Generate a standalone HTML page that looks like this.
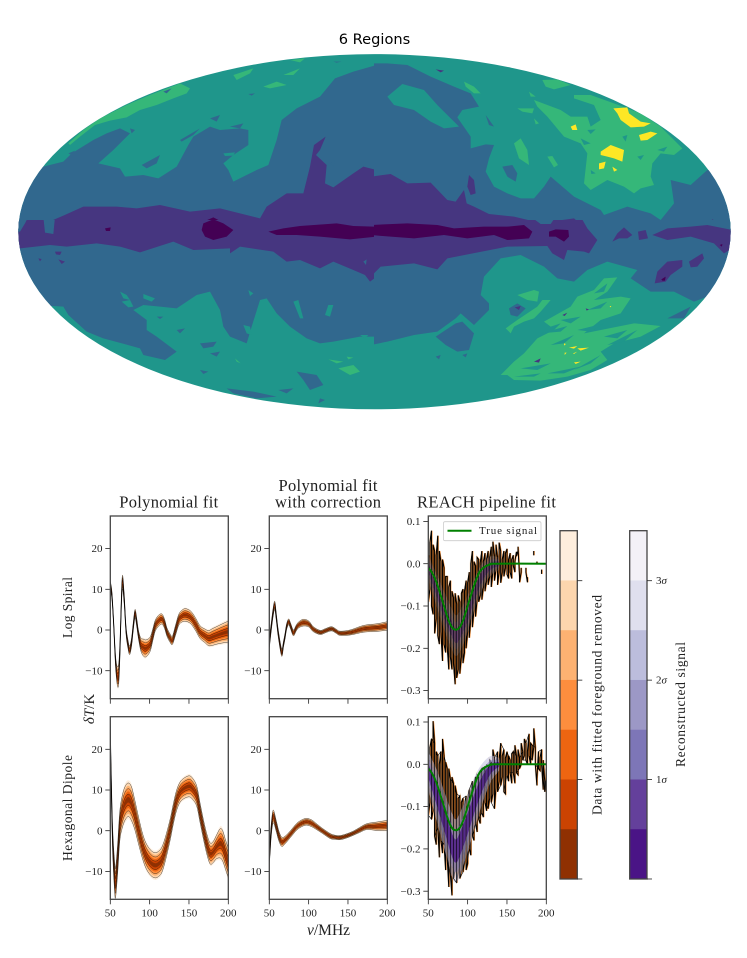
<!DOCTYPE html>
<html lang="en">
<head>
<meta charset="utf-8">
<title>6 Regions</title>
<style>
html,body{margin:0;padding:0;background:#fff}
svg{display:block}
.t{fill:#1f968b}.g{fill:#35b779}.y{fill:#fde725}.b{fill:#31688e}.p{fill:#463680}.d{fill:#440154}
text{font-family:"Liberation Serif","DejaVu Serif",serif;fill:#222}
</style>
</head>
<body>
<svg id="fig" xmlns="http://www.w3.org/2000/svg" width="747" height="958" viewBox="0 0 747 958">
<defs><clipPath id="moll"><ellipse cx="374.5" cy="231.7" rx="356.2" ry="177.6"/></clipPath></defs>
<text x="374.5" y="44" text-anchor="middle" style="font-family:'DejaVu Sans','Liberation Sans',sans-serif;font-size:14.6px;fill:#000">6 Regions</text>
<g clip-path="url(#moll)">

<svg x="0" y="30" width="374" height="200" viewBox="0 0 1122 600">
<rect class="t" x="0" y="0" width="1122" height="600"/>
<g class="g">
<polygon points="205,340 250,300 300,265 380,225 450,195 540,160 570,175 560,190 520,205 470,225 420,240 380,262 330,272 285,285 240,320 210,345"/>
<polygon points="700,135 760,115 750,130 710,150"/><polygon points="850,135 900,115 880,135"/><polygon points="790,170 830,155 860,165 810,175"/><polygon points="870,90 915,85 900,97"/>
</g>
<g class="b">
<polygon points="110,410 130,410 190,395 215,370 280,330 320,310 360,295 390,310 370,330 340,360 295,400 360,415 375,440 430,435 475,445 530,410 565,345 580,320 630,290 660,300 720,295 745,300 745,345 700,375 670,400 685,420 700,455 730,440 770,420 805,405 830,330 845,270 890,235 960,200 1005,145 1060,125 1130,105 1130,610 0,610 0,410"/>
<polygon points="425,405 480,375 470,400 440,415"/><polygon points="630,265 660,255 650,275"/><polygon points="690,290 730,280 720,295"/><polygon points="205,370 225,362 215,375"/><polygon points="390,295 405,300 395,310"/><polygon points="540,330 600,295 580,315 545,335"/><polygon points="745,192 765,190 755,197"/><polygon points="490,185 515,175 500,190"/><polygon points="1000,95 1025,95 1010,98"/>
</g>
<polygon class="t" points="670,370 705,367 700,377 675,378"/>
<g class="p">
<polygon points="40,610 80,575 130,578 140,590 155,572 190,557 250,530 350,530 410,535 480,525 570,545 660,535 720,550 780,565 800,530 860,490 910,490 930,410 942,345 977,320 960,360 948,375 980,405 975,460 1000,472 1060,430 1090,410 1130,420 1130,610"/>
</g>
<polygon class="b" points="990,400 1005,390 1000,410"/>
<g class="d">
<polygon points="605,600 610,575 640,562 665,575 700,600 700,610 605,610"/>
<polygon points="810,600 900,590 1010,578 1060,590 1130,585 1130,610 810,610"/>
<polygon points="318,600 330,595 330,605"/>
</g>
</svg>

<svg x="374" y="30" width="373" height="200" viewBox="0 0 1119 600">
<rect class="t" x="0" y="0" width="1119" height="600"/>
<g class="g">
<polygon points="270,155 300,170 320,190 300,190 275,170"/>
<polygon points="505,150 550,148 590,165 540,178 515,170"/>
<polygon points="420,340 440,325 460,360 465,405 435,385"/>
<polygon points="520,380 535,378 552,405 540,412"/>
<polygon points="430,235 480,235 475,250 445,245"/><polygon points="465,185 485,200 470,200"/><polygon points="480,265 495,280 485,283"/>
<polygon points="480,210 560,240 590,260 640,260 650,290 680,270 660,225 600,205 600,195 650,195 720,220 760,235 800,250 860,290 900,330 925,355 900,375 860,370 835,400 830,440 840,465 800,475 780,490 750,470 700,450 650,480 630,460 640,370 620,340 570,320 545,290 520,260 490,230"/>
</g>
<g class="t">
<polygon points="620,325 650,340 630,345"/><polygon points="650,420 665,430 652,432"/><polygon points="790,380 810,375 800,390"/><polygon points="850,360 880,350 870,365"/><polygon points="745,320 760,315 755,335"/><polygon points="640,300 665,298 650,312"/>
</g>
<g class="y">
<polygon points="718,235 760,232 765,250 800,275 830,280 810,290 770,292 740,270 730,250"/>
<polygon points="795,315 830,305 850,310 820,330 800,332"/>
<polygon points="590,290 605,283 610,300 595,300"/>
<polygon points="680,365 710,345 750,360 745,395 720,385 700,380 680,375"/>
<polygon points="675,400 695,395 690,415 675,418"/>
<polygon points="715,410 730,420 720,425"/>
</g>
<g class="b">
<polygon points="-10,100 40,100 100,105 170,140 240,170 290,190 315,230 265,240 250,262 290,320 290,355 335,343 360,345 345,385 335,425 360,470 400,490 440,505 480,505 510,470 530,440 600,500 680,540 690,555 760,530 830,550 860,570 900,520 890,450 950,465 1000,420 1130,420 1130,610 -10,610"/>
<polygon points="385,410 415,405 430,430 425,455 400,440"/><polygon points="335,255 360,290 345,285"/>
</g>
<polygon class="t" points="40,200 85,162 150,180 190,225 255,290 210,295 170,275 120,240 60,225"/>
<g class="p">
<polygon points="-10,440 50,432 100,460 170,458 220,510 245,515 270,480 278,520 300,530 345,552 420,560 470,572 530,575 600,565 640,600 650,610 -10,610"/>
<polygon points="880,610 885,595 925,580 1000,582 1015,568 1060,590 1075,610"/>
<polygon points="285,435 300,450 305,490 290,495 280,470"/>
<polygon points="185,118 210,122 200,127"/>
</g>
<polygon class="d" points="-10,585 60,582 120,585 170,585 250,590 320,600 400,595 440,590 460,610 -10,610"/>
</svg>

<svg x="0" y="220" width="374" height="200" viewBox="0 0 1122 600">
<rect class="t" x="0" y="0" width="1122" height="600"/>
<g class="g">
<polygon points="985,418 1030,425 1010,430"/><polygon points="1040,410 1060,413 1045,418"/><polygon points="1015,445 1060,435 1080,455 1050,465"/><polygon points="705,415 722,430 710,425"/>
</g>
<g class="b">
<polygon points="160,258 190,260 205,285 260,335 310,355 420,385 430,405 495,420 530,395 470,350 440,330 440,300 400,270 430,255 480,260 530,265 590,225 630,215 660,270 670,320 690,350 740,370 755,320 780,240 800,235 830,280 870,320 920,355 960,370 1000,365 1080,350 1130,350 1130,-10 0,-10 0,258"/>
<polygon points="470,290 490,290 480,297"/><polygon points="530,330 555,325 540,340"/><polygon points="600,370 650,365 640,380 610,385"/><polygon points="630,400 660,395 650,410"/>
<polygon points="680,505 760,515 830,530 770,535 700,520"/><polygon points="890,455 950,465 970,495 930,510 910,480"/><polygon points="600,450 625,455 610,462"/><polygon points="835,510 880,505 860,520"/><polygon points="960,535 975,540 955,550"/>
</g>
<g class="t">
<polygon points="360,215 380,225 390,240 370,235"/><polygon points="365,245 390,240 400,260 385,262"/><polygon points="430,222 465,235 455,245 430,235"/><polygon points="745,210 760,220 750,228"/><polygon points="880,245 895,240 910,295 900,295"/><polygon points="985,255 1000,255 990,290 975,285"/><polygon points="730,315 750,320 755,345 740,340"/><polygon points="1080,345 1105,345 1095,355"/>
</g>
<g class="p">
<polygon points="-10,-10 1130,-10 1130,170 1110,185 1095,165 1060,150 1000,125 960,145 900,120 860,125 820,95 720,80 690,100 690,85 580,90 520,65 420,97 360,80 290,70 200,80 150,75 60,85 -10,85"/>
<polygon points="165,95 185,95 180,105 168,103"/><polygon points="175,118 195,125 185,132"/><polygon points="115,115 125,117 120,124"/>
</g>
<g class="b">
<polygon points="130,-10 165,-10 160,42 135,38"/><polygon points="0,-10 85,-10 75,10 60,35 0,35"/><polygon points="1090,125 1100,118 1098,135"/>
</g>
<g class="d">
<polygon points="605,30 610,10 640,-2 670,10 700,30 680,50 640,60 615,50"/>
<polygon points="805,35 850,25 900,18 1010,10 1060,18 1130,20 1130,50 1050,58 960,50 890,45 830,45"/>
<polygon points="315,25 332,22 330,33 318,33"/>
</g>
</svg>

<svg x="374" y="220" width="373" height="200" viewBox="0 0 1119 600">
<rect class="t" x="0" y="0" width="1119" height="600"/>
<g class="b">
<polygon points="-10,375 40,365 120,345 190,335 245,295 260,280 300,315 330,285 345,270 345,250 320,225 330,170 380,115 440,105 510,140 550,175 600,185 640,150 700,125 790,150 770,175 830,215 900,215 960,245 1000,230 1130,200 1130,-10 -10,-10"/>
<polygon points="185,350 245,310 265,305 300,340 285,390 250,395 215,375"/>
<polygon points="880,295 950,260 930,295"/><polygon points="405,265 430,250 455,265 430,290 410,285"/>
<polygon points="185,410 200,405 195,418"/><polygon points="265,405 280,400 275,412"/>
</g>
<g class="g">
<polygon points="430,225 480,210 495,215 490,245 460,240"/>
<polygon points="380,465 420,425 450,400 490,355 540,330 560,310 530,320 510,305 590,260 610,230 660,210 690,175 730,172 700,215 660,240 740,230 770,235 740,280 680,300 630,340 780,310 860,318 800,350 720,370 680,395 700,420 650,450 580,470 500,482 420,480 400,465"/>
<polygon points="490,260 505,240 530,240 500,275 480,295 450,305 420,320 410,340 395,325 430,300"/>
</g>
<g class="t">
<polygon points="690,350 760,330 730,355"/><polygon points="600,450 680,405 650,430"/><polygon points="420,470 500,460 480,470"/><polygon points="560,300 620,290 590,310"/>
<polygon points="500,340 580,318 560,335"/><polygon points="530,375 600,345 570,370"/><polygon points="640,270 700,245 680,265"/><polygon points="440,445 530,430 490,450"/><polygon points="610,330 690,310 650,335"/><polygon points="660,220 700,190 690,215"/><polygon points="520,460 620,440 570,460"/><polygon points="700,375 790,330 750,365"/>
</g>
<g class="p">
<polygon points="-10,-10 470,-10 500,12 530,12 545,-10 620,-10 640,25 670,60 645,100 630,95 580,90 570,120 535,100 520,78 400,80 220,115 190,148 120,130 20,140 0,160 -10,165"/>
<polygon points="715,65 730,40 750,22 775,45 760,55 735,55"/><polygon points="792,35 815,30 822,55 795,60"/><polygon points="835,45 880,25 950,20 1000,15 1075,30 1075,85 1050,100 1020,70 950,50 880,60"/>
<polygon points="842,190 850,155 880,125 925,120 925,140 890,165 875,185"/><polygon points="945,125 985,100 990,115 970,140 950,142"/>
<polygon points="480,425 500,415 495,428"/><polygon points="565,285 580,278 572,288"/><polygon points="422,262 440,258 435,270"/><polygon points="635,265 645,268 638,272"/>
</g>
<g class="d">
<polygon points="-10,15 100,10 190,15 240,25 330,20 400,20 450,15 475,35 465,55 400,60 360,45 280,55 210,45 120,55 50,50 -10,45"/>
<polygon points="525,35 545,28 583,30 585,50 570,65 545,50 525,50"/>
<polygon points="862,178 875,170 873,182 865,182"/><polygon points="1037,75 1045,72 1044,80"/>
</g>
<g class="y">
<polygon points="585,383 610,378 600,386"/><polygon points="610,385 645,383 620,392"/><polygon points="597,400 610,395 600,402"/><polygon points="570,370 576,372 570,377"/><polygon points="600,427 620,425 605,432"/><polygon points="572,398 578,398 572,405"/><polygon points="707,258 712,258 709,262"/>
</g>
</svg>
</g>

<g id="panels"></g>

<text x="168.7" y="507.7" text-anchor="middle" font-size="16.5" textLength="99" lengthAdjust="spacing">Polynomial fit</text>
<text x="328" y="491" text-anchor="middle" font-size="16.5" textLength="99" lengthAdjust="spacing">Polynomial fit</text>
<text x="328" y="507.7" text-anchor="middle" font-size="16.5" textLength="106" lengthAdjust="spacing">with correction</text>
<text x="486.5" y="507.5" text-anchor="middle" font-size="16.5" textLength="139" lengthAdjust="spacing">REACH pipeline fit</text>
<text transform="translate(72,607.5) rotate(-90)" text-anchor="middle" font-size="13.5" textLength="61" lengthAdjust="spacing">Log Spiral</text>
<text transform="translate(72,808) rotate(-90)" text-anchor="middle" font-size="13.5" textLength="106" lengthAdjust="spacing">Hexagonal Dipole</text>
<text transform="translate(94,709) rotate(-90)" text-anchor="middle" font-size="15"><tspan font-style="italic">δT</tspan>/K</text>
<text x="328.5" y="935" text-anchor="middle" font-size="15.5"><tspan font-style="italic">ν</tspan>/MHz</text>

<g id="colorbars"></g>
<text transform="translate(601.7,705) rotate(-90)" text-anchor="middle" font-size="13.5" textLength="220" lengthAdjust="spacing">Data with fitted foreground removed</text>
<text transform="translate(685,704.5) rotate(-90)" text-anchor="middle" font-size="13.5" textLength="125" lengthAdjust="spacing">Reconstructed signal</text>
</svg>

<script>
// ---- chart data ----
const xTicks = [50, 100, 150, 200];
const fitTicks = [20, 10, 0, -10];
const reachTicks = [0.1, 0, -0.1, -0.2, -0.3];

const logPolyNu = [50,52,54,57,60,62,65,67.5,70,72.5,74.6,77,79,81.4,83.5,85.7,88.7,92,95.5,100.6,104,107,111,115.5,119,122,126,129,133,137,141,145,150,154,159,164,170,175,180,185.5,193,200];
const logPolyMid = [11,8.6,2.5,-8.5,-11.5,-6,11,8,0,-3.5,-5,-3,0.5,4,2,-1,-3.5,-4.3,-4.5,-3.5,-1.2,1,2.2,2.7,1.5,-0.5,-2,-2.5,0,2.5,3.4,3.7,3.4,2.7,1.2,-0.5,-1.4,-2,-1.7,-1.3,-0.8,-0.4];
const logPolyHalf = [1,1,1,1.5,2.5,2,1.7,1.3,1,1,1,1,1,1,1,1,1.5,2,2,1.7,1.4,1.3,1.3,1.2,1.1,1,1,1,1.2,1.3,1.4,1.5,1.5,1.5,1.5,1.5,1.6,1.8,2,2.1,2.3,2.5];

const logCorrNu = [50,52.5,55,57,59,61.5,65.7,68,70,72,74.6,77,80.6,84,87,93,100,106,114.6,121,129,135,140,153,170,187,200];
const logCorrMid = [-3.3,0.8,4.5,6,3,-1,-5.5,-3.5,-1.5,0.8,2,1,-0.7,0.4,1.2,1.8,1.5,0.2,-0.6,-0.2,0.3,-0.3,-0.8,-0.6,0.3,0.6,1];
const logCorrHalf = [1.3,1,1,1,0.9,0.9,0.9,0.7,0.7,0.7,0.7,0.7,0.7,0.7,0.7,0.8,0.7,0.6,0.5,0.5,0.5,0.5,0.5,0.6,0.8,0.9,1];

const hexPolyNu = [50,51.3,53,55.5,56.8,59.3,62,65,68.7,73,77,81,85.7,91,96,102,107,111,115.4,120,126,130,134.5,140,149.5,155,160,164,168.5,173,177,181,185,189.8,193,196,200];
const hexPolyMid = [24,11,-2.3,-11.4,-12.6,-7,1,4.5,6.7,7.6,6.6,4,0.2,-3.8,-6.4,-8,-8.5,-8.2,-7.2,-4.5,0.2,4,7.6,9.8,10.9,10.2,8.4,4.5,0.2,-3.5,-5.6,-5.2,-4,-3.1,-3.8,-5.6,-8];
const hexPolyHalf = [3,3,3,3.5,3.5,3.5,3.5,3.8,4,4,4,3.5,3.2,3,3,3,3,3,3,2.8,2.5,2.4,2.4,2.4,2.5,2.5,2.4,2.3,2.3,2.4,2.5,2.5,2.8,3.5,3.6,3.5,3.5];

const hexCorrNu = [50,51,52.5,55,59,62,65.7,70,77,85,92,97.6,104,110,118,127.3,133,140,148,157,165,174,187,200];
const hexCorrMid = [-6,-4,0.2,3.5,1,-1.2,-2.7,-2.3,-0.8,1,1.9,2.2,1.8,1,-0.1,-1.3,-1.6,-1.7,-1.3,-0.6,0.2,1,1.1,1.3];
const hexCorrHalf = [2,1.8,1.5,1.5,1.3,1.2,1.1,0.9,0.8,0.8,0.8,0.8,0.8,0.7,0.6,0.6,0.5,0.5,0.5,0.5,0.6,0.7,1,1.2];

const reachNu = [50,52,54,56,58,60,62,64,66,68,70,72,74,76,78,80,82,84,86,88,90,92,94,96,98,100,102,104,106,108,110,112,114,116,118,120,122,124,126,128,130,132,134,136,138,140,142,144,146,148,150,152,154,156,158,160,162,164,166,168,170,172,174,176,178,180,182,184,186,188,190,192,194,196,198,200];
const logDataHi = [.02,.05,.078,.045,.03,.02,.066,.03,.005,.01,-.01,-.03,-.03,-.055,-.04,-.065,-.08,-.07,-.095,-.075,-.09,-.07,-.06,-.065,-.04,-.045,-.02,0,.03,.005,-.005,.015,.01,.002,.03,.005,.025,.01,.03,.015,.04,.052,.02,.045,.015,.05,.03,.01,.03,.025,.035,.01,.025,.01,.02,.005,.028,.04,-.032,-.01,null,null,-.01,-.032,null,null,null,.03,null,.005,null,null,-.014,null,null,null];
const logDataLo = [-.09,-.06,-.10,-.12,-.165,-.13,-.17,-.19,-.16,-.23,-.19,-.21,-.195,-.25,-.22,-.25,-.235,-.285,-.27,-.25,-.26,-.22,-.235,-.21,-.2,-.16,-.175,-.13,-.15,-.11,-.125,-.085,-.09,-.075,-.085,-.055,-.065,-.04,-.05,-.03,-.055,-.02,-.04,-.015,-.05,-.02,-.045,-.02,-.03,-.01,-.025,-.035,-.02,-.035,-.005,-.02,.018,.03,-.044,-.02,null,null,-.02,-.044,null,null,null,.02,null,-.002,null,null,-.024,null,null,null];
const hexDataHi = [.01,.04,.06,.102,.05,.03,.02,0,.03,.06,.02,.005,-.01,-.01,-.035,-.03,-.045,-.05,-.07,-.08,-.075,-.09,-.08,-.095,-.075,-.08,-.06,-.065,-.04,-.045,-.03,-.025,-.03,-.015,-.01,-.02,-.005,0,-.01,.01,.005,.035,.015,0,.03,.01,.05,.02,.035,.015,.03,.02,.01,.025,.03,.045,.02,.035,.015,.05,.03,.06,.05,.03,.072,.05,.045,.085,.04,-.035,.03,.015,.035,.01,-.04,-.01];
const hexDataLo = [-.12,-.09,-.13,-.11,-.17,-.19,-.15,-.22,-.18,-.21,-.19,-.25,-.22,-.29,-.26,-.31,-.27,-.25,-.28,-.255,-.27,-.25,-.255,-.23,-.25,-.235,-.2,-.215,-.17,-.18,-.14,-.16,-.13,-.14,-.115,-.125,-.09,-.11,-.105,-.08,-.09,-.07,-.105,-.055,-.065,-.04,-.05,-.03,-.065,-.07,-.025,-.04,-.02,-.045,-.02,-.045,-.02,-.025,-.01,0,.01,.02,.01,0,.02,0,.01,.04,0,-.05,-.01,-.015,0,-.06,-.065,-.03];

const signalNu = [50,60,70,80,85,90,100,110,120,130,140];
const logSignalMid = [-.01,-.06,-.11,-.155,-.17,-.16,-.12,-.065,-.025,-.005,0];
const logSignalHalf = [.02,.025,.03,.032,.032,.032,.03,.025,.02,.015,.01];
const hexSignalMid = [-.015,-.07,-.13,-.19,-.205,-.19,-.14,-.085,-.04,-.01,0];
const hexSignalHalf = [.03,.04,.045,.05,.05,.05,.045,.04,.03,.02,.01];

const trueNu = [50,55,60,65,70,75,80,85,90,95,100,105,110,115,120,125,130,135,200];
const trueSignal = [-.010,-.022,-.042,-.07,-.10,-.13,-.15,-.156,-.15,-.13,-.10,-.07,-.042,-.02,-.01,-.004,-.001,0,0];

const sigmaLevels = [1, .857, .714, .571, .429, .286, .143];
const orangeShades = ['#feeedd','#fdd6ae','#fdb272','#fd8e3e','#ee6511','#cb4302','#8f3002'];
const purpleShades = ['#f3f1f7','#dfdfee','#bcbddc','#9c98c6','#7d76b7','#64409b','#4a1486'];
const sigmaTicks = ['3','2','1',''];

// ---- drawing ----
const NS = 'http://www.w3.org/2000/svg';
const root = document.getElementById('panels');
function make(parent, tag, attrs) {
  const el = document.createElementNS(NS, tag);
  for (const k in attrs) el.setAttribute(k, attrs[k]);
  parent.appendChild(el);
  return el;
}
function smooth(pts, first) {
  let d = (first ? 'M' : 'L') + pts[0][0].toFixed(2) + ' ' + pts[0][1].toFixed(2);
  for (let i = 0; i < pts.length - 1; i++) {
    const p0 = pts[Math.max(i - 1, 0)], p1 = pts[i], p2 = pts[i + 1], p3 = pts[Math.min(i + 2, pts.length - 1)];
    const c1x = p1[0] + (p2[0] - p0[0]) / 6, c1y = p1[1] + (p2[1] - p0[1]) / 6;
    const c2x = p2[0] - (p3[0] - p1[0]) / 6, c2y = p2[1] - (p3[1] - p1[1]) / 6;
    d += 'C' + c1x.toFixed(2) + ' ' + c1y.toFixed(2) + ' ' + c2x.toFixed(2) + ' ' + c2y.toFixed(2) + ' ' + p2[0].toFixed(2) + ' ' + p2[1].toFixed(2);
  }
  return d;
}
function bandPath(nu, mid, half, k, sx, sy) {
  const up = nu.map((n, i) => [sx(n), sy(mid[i] + half[i] * k)]);
  const dn = nu.map((n, i) => [sx(n), sy(mid[i] - half[i] * k)]).reverse();
  return smooth(up, true) + smooth(dn, false) + 'Z';
}
function edgePath(nu, mid, half, k, sx, sy) {
  return smooth(nu.map((n, i) => [sx(n), sy(mid[i] + half[i] * k)]), true);
}
function frame(g, px, w, top, bottom, sy, yVals, fmt, xLabels) {
  xTicks.forEach(v => {
    const x = px + (v - 50) / 150 * w;
    const t = make(g, 'line', {x1: x, x2: x, y1: bottom, y2: bottom + 5, stroke: '#222', 'stroke-width': .8});
    
    
    if (xLabels) {
      const lab = make(g, 'text', {x: x, y: 916.7, 'text-anchor': 'middle', 'font-size': 11});
      lab.textContent = v;
      
      
    }
  });
  yVals.forEach(v => {
    const y = sy(v);
    const t = make(g, 'line', {x1: px - 5, x2: px, y1: y, y2: y, stroke: '#222', 'stroke-width': .8});
    
    
    const lab = make(g, 'text', {x: px - 7.8, y: y + 3.6, 'text-anchor': 'end', 'font-size': 11});
    lab.textContent = fmt(v);
    
    
  });
  const box = make(g, 'rect', {x: px, y: top, width: w, height: bottom - top, fill: 'none', stroke: '#444', 'stroke-width': 1.3});
  
  
}
let clipId = 0;
function clipFor(g, px, w, top, bottom) {
  const id = 'c' + (++clipId);
  const defs = make(g, 'defs', {});
  const cp = make(defs, 'clipPath', {id: id});
  make(cp, 'rect', {x: px, y: top, width: w, height: bottom - top});
  return make(g, 'g', {'clip-path': 'url(#' + id + ')'});
}
function fitPanel(name, px, top, bottom, zeroY, nu, mid, half, showX) {
  const w = 118;
  const sx = n => px + (n - 50) / 150 * w;
  const sy = v => zeroY - v * 4.07;
  const g = make(root, 'g', {});
  
  
  const c = clipFor(g, px, w, top, bottom);
  sigmaLevels.forEach((k, i) => {
    const b = make(c, 'path', {d: bandPath(nu, mid, half, k * 1.2, sx, sy), fill: orangeShades[i]});
    
    
  });
  [.86, .57, .29, -.29, -.57, -.86].forEach(k => {
    const l = make(c, 'path', {d: edgePath(nu, mid, half, k * 1.2, sx, sy), fill: 'none', stroke: '#000', 'stroke-width': .45, 'stroke-opacity': .8});
    
    
  });
  frame(g, px, w, top, bottom, sy, fitTicks, v => (v < 0 ? '\u2212' + (-v) : '' + v), showX);
}
function zigzag(nu, hi, lo, sx, sy, off) {
  let d = '', pen = false, flip = false;
  nu.forEach((n, i) => {
    if (hi[i] === null) { pen = false; return; }
    const a = sy(flip ? lo[i] : hi[i]), b = sy(flip ? hi[i] : lo[i]);
    const x = sx(n) + off;
    d += (pen ? 'L' : 'M') + x.toFixed(2) + ' ' + a.toFixed(2) + 'L' + x.toFixed(2) + ' ' + b.toFixed(2);
    pen = true; flip = !flip;
  });
  return d;
}
function reachPanel(name, px, top, bottom, zeroY, hi, lo, sMid, sHalf, showX, legend, bandAlpha, overlayStep) {
  const w = 118;
  const sx = n => px + (n - 50) / 150 * w;
  const sy = v => zeroY - v * 423;
  const g = make(root, 'g', {});
  
  
  const c = clipFor(g, px, w, top, bottom);
  const halo = make(c, 'path', {d: zigzag(reachNu, hi, lo, sx, sy, 0), fill: 'none', stroke: '#feeedd', 'stroke-width': 2.4});
  
  
  const org = make(c, 'path', {d: zigzag(reachNu, hi, lo, sx, sy, .6), fill: 'none', stroke: '#f3801f', 'stroke-width': .8});
  
  
  const blk = make(c, 'path', {d: zigzag(reachNu, hi, lo, sx, sy, 0), fill: 'none', stroke: '#000', 'stroke-width': 1.05});
  
  
  [[1.5, '#bcbddc', bandAlpha * .7], [1, '#7d76b7', bandAlpha * .7], [.55, '#4a1486', bandAlpha]].forEach(b => {
    const band = make(c, 'path', {d: bandPath(signalNu, sMid, sHalf, b[0], sx, sy), fill: b[1], opacity: b[2]});
    
    
  });
  const keep = (n, i) => i % overlayStep === 0;
  const blk2 = make(c, 'path', {d: zigzag(reachNu.filter(keep), hi.filter(keep), lo.filter(keep), sx, sy, 0), fill: 'none', stroke: '#000', 'stroke-width': .6});
  
  
  const gr = make(c, 'path', {d: smooth(trueNu.map((n, i) => [sx(n), sy(trueSignal[i])]), true), fill: 'none', stroke: '#008000', 'stroke-width': 2});
  
  
  if (legend) {
    const lg = make(g, 'g', {});
    
    
    make(lg, 'rect', {x: 443.5, y: 521.7, width: 97.5, height: 19, rx: 1.5, fill: '#fff', 'fill-opacity': .85, stroke: '#ccc', 'stroke-width': .8});
    const s = make(lg, 'line', {x1: 447.5, x2: 471.5, y1: 530.7, y2: 530.7, stroke: '#008000', 'stroke-width': 2});
    
    
    const t = make(lg, 'text', {x: 479, y: 534.2, 'font-size': 11, textLength: 58});
    t.textContent = 'True signal';
    
    
  }
  frame(g, px, w, top, bottom, sy, reachTicks, v => (v === 0 ? '0.0' : v < 0 ? '\u2212' + (-v).toFixed(1) : v.toFixed(1)), showX);
}
fitPanel('panel-log-spiral-polynomial', 110.3, 516, 698.7, 630, logPolyNu, logPolyMid, logPolyHalf, false);
fitPanel('panel-log-spiral-corrected', 269.3, 516, 698.7, 630, logCorrNu, logCorrMid, logCorrHalf, false);
reachPanel('panel-log-spiral-reach', 428.3, 516, 698.7, 563.7, logDataHi, logDataLo, logSignalMid, logSignalHalf, false, true, .4, 1);
fitPanel('panel-hexagonal-dipole-polynomial', 110.3, 716.7, 899.3, 830.7, hexPolyNu, hexPolyMid, hexPolyHalf, true);
fitPanel('panel-hexagonal-dipole-corrected', 269.3, 716.7, 899.3, 830.7, hexCorrNu, hexCorrMid, hexCorrHalf, true);
reachPanel('panel-hexagonal-dipole-reach', 428.3, 716.7, 899.3, 764.3, hexDataHi, hexDataLo, hexSignalMid, hexSignalHalf, true, false, .75, 2);

const bars = document.getElementById('colorbars');
function colorbar(name, x, shades, withLabels) {
  const top = 530.7, bottom = 879, w = 17.3, step = (bottom - top) / shades.length;
  const g = make(bars, 'g', {});
  
  
  shades.forEach((col, i) => {
    const r = make(g, 'rect', {x: x, y: top + i * step, width: w, height: step + .3, fill: col});
    
    
  });
  make(g, 'rect', {x: x, y: top, width: w, height: bottom - top, fill: 'none', stroke: '#444', 'stroke-width': 1.3});
  sigmaTicks.forEach((lab, i) => {
    const yy = 580.7 + i * 99.43;
    const t = make(g, 'line', {x1: x + w, x2: x + w + 5, y1: yy, y2: yy, stroke: '#222', 'stroke-width': .8});
    
    
    if (withLabels && lab) {
      const tx = make(g, 'text', {x: x + w + 9, y: yy + 3.5, 'font-size': 11});
      tx.textContent = lab;
      const sg = make(tx, 'tspan', {'font-style': 'italic'});
      sg.textContent = '\u03c3';
      
      
    }
  });
}
colorbar('colorbar-data', 560, orangeShades, false);
colorbar('colorbar-signal', 629.7, purpleShades, true);
</script>
</body>
</html>
